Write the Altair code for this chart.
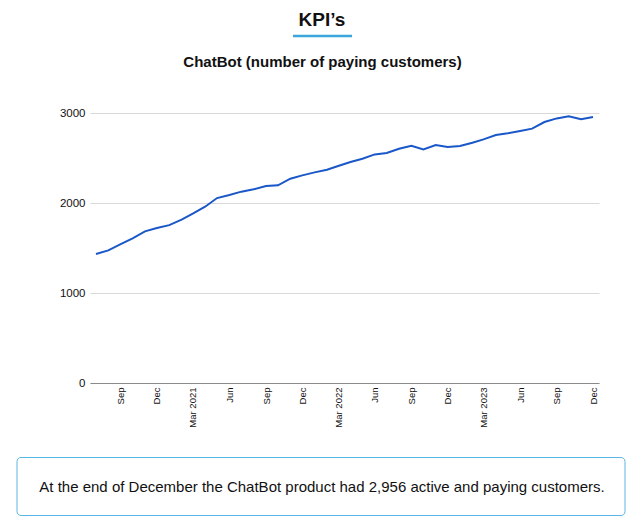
import altair as alt
import pandas as pd

# ---- data ----
months = pd.date_range("2020-07-01", "2023-12-01", freq="MS").strftime("%Y-%m-%d").tolist()
customers = [
    1433, 1474, 1544, 1607, 1685, 1722,
    1754, 1815, 1881, 1959, 2055, 2089, 2126, 2152, 2189, 2196, 2270, 2307,
    2340, 2370, 2411, 2456, 2492, 2540, 2555, 2603, 2637, 2596, 2644, 2622,
    2633, 2670, 2707, 2755, 2774, 2800, 2826, 2900, 2940, 2963, 2930, 2956,
]
tick_months = [(2020, 9), (2020, 12), (2021, 3), (2021, 6), (2021, 9), (2021, 12),
               (2022, 3), (2022, 6), (2022, 9), (2022, 12), (2023, 3), (2023, 6),
               (2023, 9), (2023, 12)]
y_ticks = [0, 1000, 2000, 3000]

title_text = "KPI’s"
subtitle_text = "ChatBot (number of paying customers)"
footer_text = "At the end of December the ChatBot product had 2,956 active and paying customers."

FONT = "Liberation Sans"
W, H = 509, 270

df = pd.DataFrame({"month": months, "customers": customers})

x_enc = alt.X(
    "month:T",
    scale=alt.Scale(
        type="utc",
        domain=[alt.DateTime(year=2020, month=6, date=16, utc=True),
                alt.DateTime(year=2023, month=12, date=16, utc=True)],
    ),
    axis=alt.Axis(
        title=None,
        values=[alt.DateTime(year=y, month=m, date=1, utc=True) for y, m in tick_months],
        labelExpr="utcFormat(datum.value, utcmonth(datum.value) == 2 ? '%b %Y' : '%b')",
        labelAngle=-90,
        labelFontSize=9.5,
        labelColor="#111111",
        labelPadding=4,
        ticks=False,
        grid=False,
        domain=True,
        domainColor="#8a8a8a",
        domainWidth=1,
        zindex=1,
    ),
)
y_enc = alt.Y(
    "customers:Q",
    scale=alt.Scale(domain=[0, 3000], nice=False),
    axis=alt.Axis(
        title=None,
        values=y_ticks,
        format="d",
        labelFontSize=11.5,
        labelColor="#111111",
        labelPadding=5,
        ticks=False,
        domain=False,
        grid=True,
        gridColor="#d9d9d9",
        gridWidth=1,
    ),
)

line = alt.Chart(df).mark_line(color="#1a57c8", strokeWidth=2).encode(x=x_enc, y=y_enc)

one = pd.DataFrame({"title": [title_text], "subtitle": [subtitle_text], "footer": [footer_text]})

title = alt.Chart(one).mark_text(
    font=FONT, fontSize=19, fontWeight="bold", color="#111111", align="center", baseline="middle"
).encode(text="title:N", x=alt.value(232), y=alt.value(-93.5))

underline = alt.Chart(one).mark_rule(color="#3aa6dc", strokeWidth=2.5).encode(
    x=alt.value(203), x2=alt.value(262), y=alt.value(-77)
)

subtitle = alt.Chart(one).mark_text(
    font=FONT, fontSize=15, fontWeight="bold", color="#111111", align="center", baseline="middle"
).encode(text="subtitle:N", x=alt.value(232.5), y=alt.value(-51.5))

box = alt.Chart(one).mark_rect(
    fill="white", stroke="#5ab6e4", strokeWidth=1, cornerRadius=4
).encode(x=alt.value(-73), x2=alt.value(535), y=alt.value(344.5), y2=alt.value(402.5))

footer = alt.Chart(one).mark_text(
    font=FONT, fontSize=15, color="#111111", align="center", baseline="middle"
).encode(text="footer:N", x=alt.value(232), y=alt.value(373.5))

chart = alt.layer(line, title, underline, subtitle, box, footer).properties(
    width=W,
    height=H,
    autosize=alt.AutoSizeParams(type="none"),
    padding={"left": 82, "top": 105, "right": 33, "bottom": 133},
).configure_view(stroke=None).configure_axis(labelFont=FONT)

chart.save("out.html", embed_options={"renderer": "svg", "actions": False})
